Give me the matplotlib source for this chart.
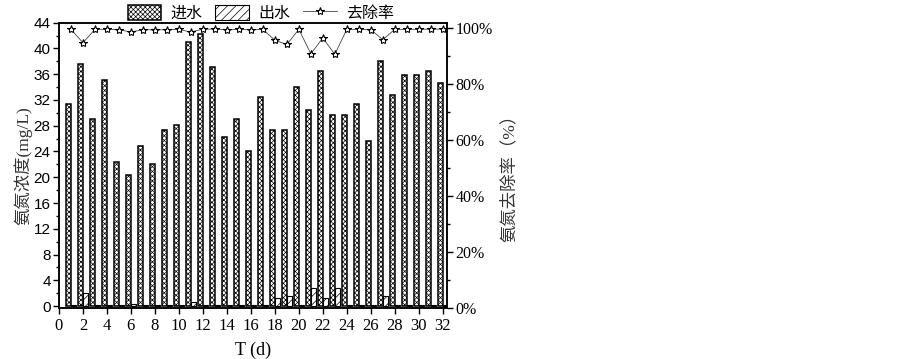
import matplotlib

matplotlib.use("Agg")
import matplotlib.pyplot as plt
import numpy as np
from matplotlib.ticker import MultipleLocator, FuncFormatter

# ammonia nitrogen, influent / effluent (mg/L) and removal rate (%)
days = list(range(1, 33))
influent = [31.4, 37.6, 29.1, 35.1, 22.3, 20.4, 24.9, 22.0, 27.3, 28.1,
            41.0, 42.3, 37.1, 26.2, 29.0, 24.0, 32.5, 27.3, 27.3, 34.0,
            30.4, 36.5, 29.7, 29.7, 31.3, 25.7, 38.1, 32.8, 35.9, 35.9,
            36.5, 34.7]
effluent = [0.15, 2.0, 0.15, 0.15, 0.15, 0.4, 0.15, 0.15, 0.15, 0.15,
            0.65, 0.15, 0.15, 0.15, 0.15, 0.15, 0.15, 1.2, 1.6, 0.15,
            2.8, 1.3, 2.8, 0.15, 0.15, 0.15, 1.6, 0.15, 0.15, 0.15,
            0.15, 0.15]
removal = [99.5, 94.7, 99.5, 99.5, 99.4, 98.5, 99.4, 99.3, 99.4, 99.5,
           98.5, 99.6, 99.6, 99.4, 99.5, 99.4, 99.5, 95.6, 94.1, 99.5,
           90.8, 96.4, 90.6, 99.5, 99.5, 99.4, 95.8, 99.5, 99.5, 99.5,
           99.6, 99.6]

SERIF = ["Liberation Serif", "Noto Sans CJK SC"]
MIXED = ["Liberation Serif", "Noto Sans CJK SC"]

plt.rcParams["hatch.linewidth"] = 0.5
plt.rcParams["font.family"] = SERIF

fig = plt.figure(figsize=(9.03, 3.59), dpi=100)
ax = fig.add_axes([0.0653, 0.142, 0.4297, 0.795])
ax2 = ax.twinx()

x = np.array(days)
b1 = ax.bar(x - 0.22, influent, width=0.42, facecolor="white", edgecolor="black",
            linewidth=1.1, hatch="xxxxxxx", label="进水", zorder=2)
b2 = ax.bar(x + 0.2, effluent, width=0.4, facecolor="white", edgecolor="black",
            linewidth=0.8, hatch="////", label="出水", zorder=2)
ln, = ax2.plot(x, removal, color="#444444", linewidth=0.6, marker="*",
               markersize=6, markerfacecolor="white", markeredgecolor="black",
               markeredgewidth=0.8, label="去除率")

ax.set_xlim(0, 32.35)
ax.set_ylim(-0.3, 44)
ax2.set_ylim(0, 101.9)

ax.xaxis.set_major_locator(MultipleLocator(2))
ax.yaxis.set_major_locator(MultipleLocator(4))
ax.yaxis.set_minor_locator(MultipleLocator(2))
ax2.yaxis.set_major_locator(MultipleLocator(20))
ax2.yaxis.set_minor_locator(MultipleLocator(10))
ax2.yaxis.set_major_formatter(FuncFormatter(lambda v, p: f"{int(v)}%"))

ax.tick_params(axis="x", which="major", direction="out", length=4, width=1,
               labelsize=12, pad=3)
ax.tick_params(axis="y", which="major", direction="out", length=4, width=1, pad=2)
ax.tick_params(axis="y", which="minor", direction="out", length=2.5, width=1)
ax2.tick_params(axis="y", which="major", direction="out", length=4, width=1,
                labelsize=11.5, pad=2)
ax2.tick_params(axis="y", which="minor", direction="out", length=2.5, width=1)
for lab in ax.get_yticklabels():
    lab.set_fontfamily("Liberation Sans")
    lab.set_fontsize(11)

for a in (ax, ax2):
    for s in a.spines.values():
        s.set_linewidth(1.1)

ax.set_xlabel("T (d)", fontsize=13, labelpad=6)
ax.set_ylabel("氨氮浓度(mg/L)", fontsize=12.5, family=MIXED, color="#333333",
              labelpad=1)
ax2.set_ylabel("氨氮去除率（%）", fontsize=12.5, family=MIXED, color="#333333",
               labelpad=2)
ax2.yaxis.set_label_coords(1.14, 0.47)

fig.legend(handles=[b1, b2, ln], loc="center", bbox_to_anchor=(0.289, 0.963),
           ncol=3, frameon=False, prop={"family": MIXED, "size": 11.5},
           handlelength=2.1, handleheight=1.05, handletextpad=0.6,
           columnspacing=0.8, borderpad=0.2)

fig.savefig("out.png", dpi=100)
